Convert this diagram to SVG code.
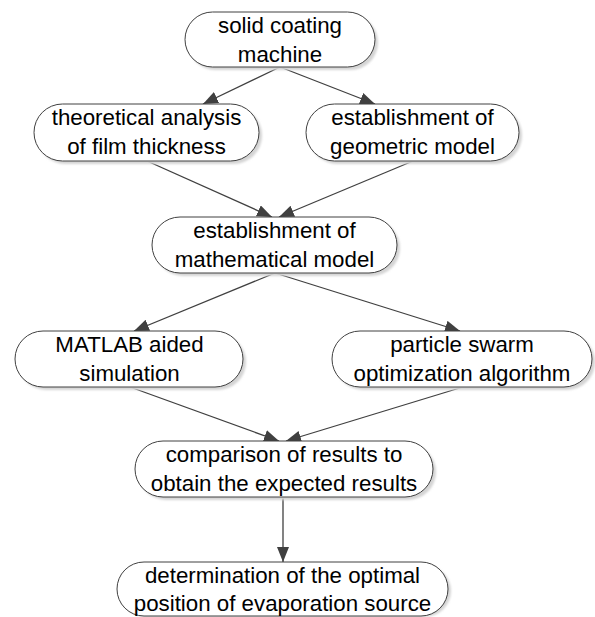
<svg xmlns="http://www.w3.org/2000/svg" width="595" height="617" viewBox="0 0 595 617">
<style>
.box{fill:#ffffff;stroke:#404040;stroke-width:1}
.sh{fill:#d4d4d4}
.t{font-family:"Liberation Sans",Arial,sans-serif;font-size:22.3px;fill:#000;text-anchor:middle}
.c{stroke:#404040;stroke-width:1.3;fill:none;marker-end:url(#ah)}
</style>
<defs>
<marker id="ah" markerUnits="userSpaceOnUse" markerWidth="16" markerHeight="13" refX="15" refY="6" orient="auto">
<path d="M0,0 L15,6 L0,12 z" fill="#404040"/>
</marker>
<filter id="blur" x="-10%" y="-20%" width="120%" height="140%"><feGaussianBlur stdDeviation="1.2"/></filter>
</defs>
<rect width="595" height="617" fill="#ffffff"/>
<g id="connectors">
<line class="c" x1="280" y1="67" x2="203" y2="104"/>
<line class="c" x1="280" y1="67" x2="375" y2="104"/>
<line class="c" x1="147" y1="161" x2="272" y2="217"/>
<line class="c" x1="413" y1="161" x2="279" y2="217"/>
<line class="c" x1="275" y1="273" x2="134" y2="331"/>
<line class="c" x1="275" y1="273" x2="460" y2="331"/>
<line class="c" x1="130" y1="387" x2="279" y2="441"/>
<line class="c" x1="463" y1="387" x2="286" y2="441"/>
<line class="c" x1="283" y1="497" x2="283" y2="562"/>
</g>
<g id="n1">
<rect class="sh" x="188" y="15" width="190" height="55" rx="27.5" filter="url(#blur)"/>
<rect class="box" x="185" y="12" width="190" height="55" rx="27.5"/>
<text class="t" x="280" y="33">solid coating</text>
<text class="t" x="280" y="62">machine</text>
</g>
<g id="n2">
<rect class="sh" x="37" y="107" width="225" height="57" rx="28.5" filter="url(#blur)"/>
<rect class="box" x="34" y="104" width="225" height="57" rx="28.5"/>
<text class="t" x="146.5" y="125">theoretical analysis</text>
<text class="t" x="146.5" y="154">of film thickness</text>
</g>
<g id="n3">
<rect class="sh" x="309" y="107" width="213" height="57" rx="28.5" filter="url(#blur)"/>
<rect class="box" x="306" y="104" width="213" height="57" rx="28.5"/>
<text class="t" x="412.5" y="125">establishment of</text>
<text class="t" x="412.5" y="154">geometric model</text>
</g>
<g id="n4">
<rect class="sh" x="155" y="220" width="245" height="56" rx="28" filter="url(#blur)"/>
<rect class="box" x="152" y="217" width="245" height="56" rx="28"/>
<text class="t" x="274.5" y="238">establishment of</text>
<text class="t" x="274.5" y="267">mathematical model</text>
</g>
<g id="n5">
<rect class="sh" x="18" y="334" width="228" height="56" rx="28" filter="url(#blur)"/>
<rect class="box" x="15" y="331" width="228" height="56" rx="28"/>
<text class="t" x="129.5" y="352">MATLAB aided</text>
<text class="t" x="129.5" y="381">simulation</text>
</g>
<g id="n6">
<rect class="sh" x="335" y="334" width="260" height="56" rx="28" filter="url(#blur)"/>
<rect class="box" x="332" y="331" width="260" height="56" rx="28"/>
<text class="t" x="462" y="352">particle swarm</text>
<text class="t" x="462" y="381">optimization algorithm</text>
</g>
<g id="n7">
<rect class="sh" x="138" y="444" width="298" height="56" rx="28" filter="url(#blur)"/>
<rect class="box" x="135" y="441" width="298" height="56" rx="28"/>
<text class="t" x="284" y="462">comparison of results to</text>
<text class="t" x="284" y="491">obtain the expected results</text>
</g>
<g id="n8">
<rect class="sh" x="120" y="565" width="331" height="52" rx="27" filter="url(#blur)"/>
<rect class="box" x="117" y="562" width="331" height="54" rx="27"/>
<text class="t" x="282.5" y="583">determination of the optimal</text>
<text class="t" x="282.5" y="611">position of evaporation source</text>
</g>
</svg>
